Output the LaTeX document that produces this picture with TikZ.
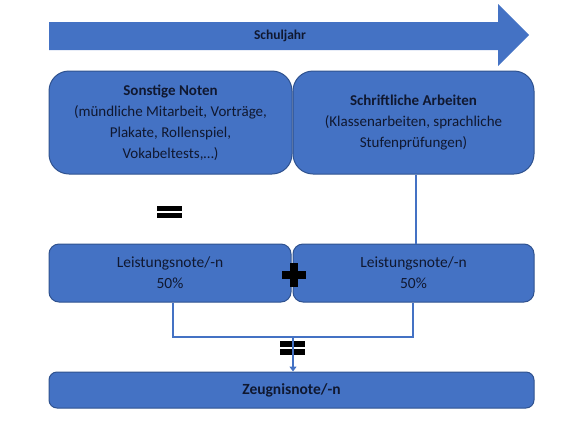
\documentclass[tikz,border=0pt]{standalone}
\usepackage{fontspec}
\setmainfont{Carlito}
\usetikzlibrary{arrows.meta}
\definecolor{boxfill}{HTML}{4472C4}
\definecolor{boxline}{HTML}{2F528F}
\definecolor{txt}{HTML}{101830}
\tikzset{
  box/.style={draw=boxline, line width=1pt, fill=boxfill, rounded corners=#1, text=txt, align=center, inner sep=0pt},
  box/.default=10pt,
  conn/.style={draw=boxfill, line width=1.7pt},
  sym/.style={fill=black, draw=none}
}
\begin{document}
\begin{tikzpicture}[x=1pt,y=-1pt]
\useasboundingbox (0,0) rectangle (576,440);
% Schuljahr arrow
\fill[boxfill] (49,22) -- (498,22) -- (498,4) -- (529,35) -- (498,66) -- (498,50) -- (49,50) -- cycle;
\node[text=txt, font=\fontsize{13.5}{15}\selectfont\bfseries] (jahr) at (280,36) {Schuljahr};
% top boxes
\node[box=20pt, minimum width=243pt, minimum height=103pt, font=\fontsize{15}{21}\selectfont] (sonst) at (170.5,122.5)
  {\textbf{Sonstige Noten}\\(mündliche Mitarbeit, Vorträge,\\Plakate, Rollenspiel,\\Vokabeltests,…)};
\node[box=20pt, minimum width=241pt, minimum height=103pt, font=\fontsize{15}{21}\selectfont] (schrift) at (413.5,122.5)
  {\textbf{Schriftliche Arbeiten}\\(Klassenarbeiten, sprachliche\\Stufenprüfungen)};
% middle boxes
\node[box=10pt, minimum width=242pt, minimum height=58pt, font=\fontsize{15.5}{21}\selectfont] (l1) at (170,273)
  {Leistungsnote/-n\\50\%};
\node[box=10pt, minimum width=241pt, minimum height=58pt, font=\fontsize{15.5}{21}\selectfont] (l2) at (413.5,273)
  {Leistungsnote/-n\\50\%};
% bottom box
\node[box=8pt, minimum width=485pt, minimum height=36pt, font=\fontsize{15.5}{18}\selectfont\bfseries] (zeug) at (291.5,390)
  {Zeugnisnote/-n};
% connectors
\coordinate (s1) at (416,0);
\draw[conn] (schrift.south -| s1) -- (l2.north -| s1);
\coordinate (j1) at (173,337);
\coordinate (j2) at (413,337);
\coordinate (jm) at (293,337);
\draw[conn] (l1.south -| j1) -- (j1) -- (j2) -- (l2.south -| j2);
\draw[conn, -{Triangle[length=5pt,width=7pt]}] (jm) -- (jm |- zeug.north);
% equals sign (left)
\fill[sym] (157,206) rectangle (182,211);
\fill[sym] (157,213) rectangle (182,218);
% plus sign
\fill[sym] (290,263) rectangle (298,287);
\fill[sym] (282,271) rectangle (306,279);
% equals sign (bottom)
\fill[sym] (280,341) rectangle (305,347);
\fill[sym] (280,349) rectangle (305,355);
\draw[conn] (jm) -- (293,356);
\end{tikzpicture}
\end{document}
